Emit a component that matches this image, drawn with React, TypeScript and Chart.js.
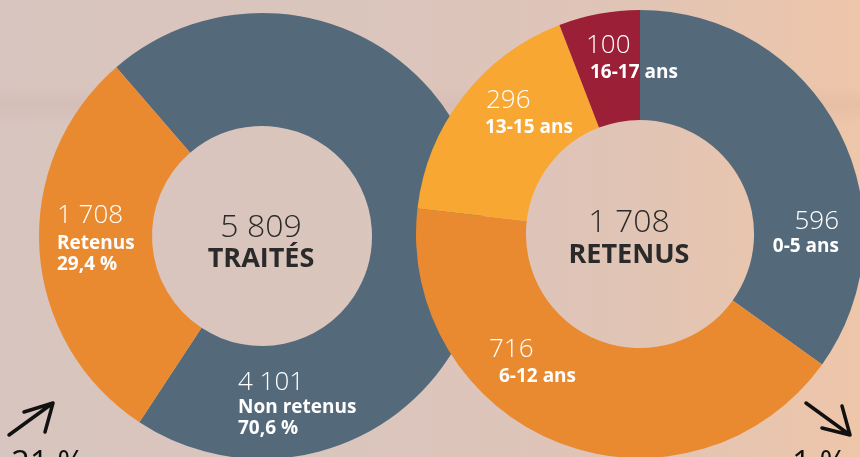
import React, { useEffect, useRef } from "react";
import { Chart, registerables } from "chart.js";

Chart.register(...registerables);

// ---- Data ----
const statusLabels = ["Non retenus", "Retenus"];
const statusValues = [4101, 1708];
const statusPercents = ["70,6 %", "29,4 %"];
const statusColors = ["#546a7b", "#ea8a30"];
const statusTotalTitle = "TRAITÉS";

const ageLabels = ["0-5 ans", "6-12 ans", "13-15 ans", "16-17 ans"];
const ageValues = [596, 716, 296, 100];
const ageColors = ["#546a7b", "#ea8a30", "#f8a733", "#9b1f36"];
const ageTotalTitle = "RETENUS";

const trendLeft = "21 %";
const trendRight = "1 %";

const fmt = (v: number) => String(v).replace(/\B(?=(\d{3})+(?!\d))/g, " ");
const sum = (a: number[]) => a.reduce((s, v) => s + v, 0);

const NUM_FONT = "350 26px 'Open Sans'";
const LBL_FONT = "700 19px 'Open Sans'";
const CTR_NUM_FONT = "300 32px 'Open Sans'";
const CTR_LBL_FONT = "700 27px 'Open Sans'";

type LabelPos = { dx: number; dy: number; align: CanvasTextAlign; lines: { text: string; font: string; dx?: number; gap: number }[] };

const donutText = {
  id: "donutText",
  afterDatasetsDraw(chart: any, _args: any, opts: any) {
    const meta = chart.getDatasetMeta(0);
    const arc = meta.data[0];
    if (!arc) return;
    const cx = arc.x;
    const cy = arc.y;
    const ctx = chart.ctx as CanvasRenderingContext2D;
    ctx.save();
    ctx.textBaseline = "alphabetic";
    (opts.labels || []).forEach((lp: LabelPos) => {
      ctx.textAlign = lp.align;
      ctx.fillStyle = "#ffffff";
      let y = cy + lp.dy;
      lp.lines.forEach((ln) => {
        y += ln.gap;
        ctx.font = ln.font;
        ctx.fillText(ln.text, cx + lp.dx + (ln.dx || 0), y);
      });
    });
    ctx.textAlign = "center";
    ctx.fillStyle = "#2a2a2a";
    ctx.font = CTR_NUM_FONT;
    ctx.fillText(opts.centerNumber, cx + opts.centerDx, cy + opts.numDy);
    ctx.font = CTR_LBL_FONT;
    ctx.fillText(opts.centerTitle, cx + opts.centerDx, cy + opts.titleDy);
    ctx.restore();
  },
};

const trendMarks = {
  id: "trendMarks",
  afterDraw(chart: any) {
    const ctx = chart.ctx as CanvasRenderingContext2D;
    ctx.save();
    ctx.strokeStyle = "#111";
    ctx.lineWidth = 3.5;
    ctx.lineCap = "round";
    ctx.lineJoin = "round";
    ctx.beginPath();
    ctx.moveTo(9, 435);
    ctx.lineTo(53, 403);
    ctx.moveTo(24, 412);
    ctx.lineTo(53, 403);
    ctx.lineTo(45, 432);
    ctx.stroke();
    ctx.beginPath();
    ctx.moveTo(806, 403);
    ctx.lineTo(850, 435);
    ctx.moveTo(842, 406);
    ctx.lineTo(850, 435);
    ctx.lineTo(822, 428);
    ctx.stroke();
    ctx.fillStyle = "#111";
    ctx.font = "400 33px 'Open Sans'";
    ctx.textAlign = "left";
    ctx.textBaseline = "alphabetic";
    ctx.fillText(trendLeft, 11, 474);
    ctx.fillText(trendRight, 792, 474);
    ctx.restore();
  },
};

export default function App() {
  const leftRef = useRef<HTMLCanvasElement>(null);
  const rightRef = useRef<HTMLCanvasElement>(null);

  useEffect(() => {
    const left = new Chart(leftRef.current!, {
      type: "doughnut",
      data: {
        labels: statusLabels,
        datasets: [{ data: statusValues, backgroundColor: statusColors, borderWidth: 0, clip: false } as any],
      },
      options: {
        responsive: false,
        animation: false,
        rotation: -40.8,
        radius: 223,
        cutout: 109,
        layout: { padding: { left: 0, right: 336, top: 15, bottom: 0 } },
        plugins: {
          legend: { display: false },
          tooltip: { enabled: false },
          donutText: {
            centerNumber: fmt(sum(statusValues)),
            centerTitle: statusTotalTitle,
            centerDx: -1,
            numDy: 1,
            titleDy: 31,
            labels: [
              {
                dx: -205, dy: 0, align: "left",
                lines: [
                  { text: fmt(statusValues[1]), font: NUM_FONT, gap: -13 },
                  { text: statusLabels[1], font: LBL_FONT, gap: 26 },
                  { text: statusPercents[1], font: LBL_FONT, gap: 21 },
                ],
              },
              {
                dx: -24, dy: 0, align: "left",
                lines: [
                  { text: fmt(statusValues[0]), font: NUM_FONT, gap: 154 },
                  { text: statusLabels[0], font: LBL_FONT, gap: 23 },
                  { text: statusPercents[0], font: LBL_FONT, gap: 21 },
                ],
              },
            ],
          },
        } as any,
      },
      plugins: [donutText],
    });

    const right = new Chart(rightRef.current!, {
      type: "doughnut",
      data: {
        labels: ageLabels,
        datasets: [{ data: ageValues, backgroundColor: ageColors, borderWidth: 0, clip: false } as any],
      },
      options: {
        responsive: false,
        animation: false,
        rotation: 0,
        radius: 224,
        cutout: 112,
        layout: { padding: { left: 420, right: 0, top: 11, bottom: 0 } },
        plugins: {
          legend: { display: false },
          tooltip: { enabled: false },
          donutText: {
            centerNumber: fmt(sum(ageValues)),
            centerTitle: ageTotalTitle,
            centerDx: -11,
            numDy: -2,
            titleDy: 29,
            labels: [
              {
                dx: 199, dy: 0, align: "right",
                lines: [
                  { text: fmt(ageValues[0]), font: NUM_FONT, gap: -5 },
                  { text: ageLabels[0], font: LBL_FONT, gap: 23 },
                ],
              },
              {
                dx: -151, dy: 0, align: "left",
                lines: [
                  { text: fmt(ageValues[1]), font: NUM_FONT, gap: 123 },
                  { text: ageLabels[1], font: LBL_FONT, dx: 10, gap: 25 },
                ],
              },
              {
                dx: -154, dy: 0, align: "left",
                lines: [
                  { text: fmt(ageValues[2]), font: NUM_FONT, gap: -126 },
                  { text: ageLabels[2], font: LBL_FONT, dx: -1, gap: 25 },
                ],
              },
              {
                dx: -54, dy: 0, align: "left",
                lines: [
                  { text: fmt(ageValues[3]), font: NUM_FONT, gap: -181 },
                  { text: ageLabels[3], font: LBL_FONT, dx: 4, gap: 25 },
                ],
              },
            ],
          },
        } as any,
      },
      plugins: [donutText, trendMarks],
    });

    return () => {
      left.destroy();
      right.destroy();
    };
  }, []);

  return (
    <div
      style={{
        position: "fixed",
        left: 0,
        top: 0,
        width: 860,
        height: 457,
        overflow: "hidden",
        background:
          "linear-gradient(90deg, #d8c5bf 0%, #dbc5bd 45%, #e0c4b6 72%, #eec6a9 100%)",
      }}
    >
      <div
        style={{
          position: "absolute",
          left: 0,
          top: 85,
          width: 860,
          height: 40,
          background:
            "linear-gradient(180deg, rgba(160,110,100,0) 0%, rgba(160,110,100,0.08) 50%, rgba(160,110,100,0) 100%)",
        }}
      />
      <canvas ref={leftRef} width={860} height={457} style={{ position: "absolute", left: 0, top: 0 }} />
      <canvas ref={rightRef} width={860} height={457} style={{ position: "absolute", left: 0, top: 0 }} />
    </div>
  );
}
